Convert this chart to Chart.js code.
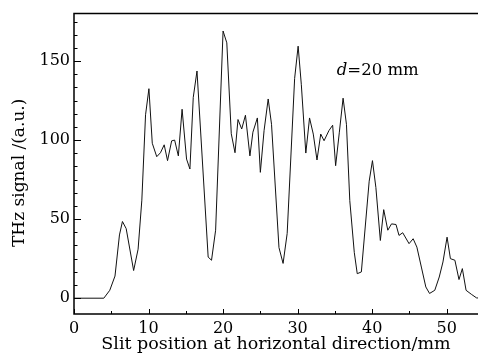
<!DOCTYPE html>
<html>
<head>
<meta charset="utf-8">
<script src="https://cdn.jsdelivr.net/npm/chart.js@4.4.1/dist/chart.umd.min.js"></script>
<style>
html, body { margin: 0; padding: 0; background: #fff; }
canvas { display: block; }
</style>
</head>
<body>
<canvas id="chart" width="478" height="358"></canvas>
<script>
// slit position (mm) and THz signal (a.u.)
const position = [0, 4, 4.8, 5.5, 6.1, 6.5, 7.0, 8.0, 8.6, 9.1, 9.6, 10.05, 10.5, 11.1, 11.6, 12.1,
    12.55, 13.1, 13.5, 14.0, 14.5, 15.1, 15.55, 16.0, 16.5, 18.0, 18.45, 19.0, 20.0, 20.5, 21.1,
    21.6, 22.0, 22.5, 23.0, 23.6, 24.0, 24.6, 25.0, 25.5, 26.05, 26.5, 27.5, 28.05, 28.6, 29.6,
    30.07, 30.5, 31.1, 31.6, 32.1, 32.6, 33.1, 33.55, 34.2, 34.7, 35.1, 35.6, 36.1, 36.55, 37.0,
    37.6, 38.0, 38.55, 39.6, 40.04, 40.5, 41.1, 41.55, 42.1, 42.6, 43.2, 43.6, 44.1, 44.95, 45.5,
    46.0, 46.6, 47.2, 47.7, 48.4, 49.0, 49.5, 50.05, 50.5, 51.1, 51.65, 52.1, 52.6, 53.3, 54.0, 54.5];
const signal = [0, 0, 5, 14, 40, 48.5, 44, 17.5, 31, 62, 116, 132.5, 98, 89.5, 92, 97,
    87, 99.5, 100, 90, 119.5, 88, 81.7, 127, 143.7, 26, 24, 43, 169, 161.5, 104,
    92, 113, 107, 115.7, 90, 105, 114, 79.6, 106, 126, 110, 32, 22, 41, 139,
    159.4, 135, 91.8, 114, 103.8, 87.4, 103.8, 99.6, 106, 109.4, 83.8, 105, 126.5, 110, 61.7,
    29, 15.5, 16.6, 74, 87, 70, 36.5, 56, 43, 47, 46.6, 39.7, 41.4, 34.5, 37.6,
    32.3, 19.7, 7.1, 3, 5, 13.4, 22.9, 38.6, 25, 24, 11.8, 18.7, 5, 2.5, 0.2, 0];

const xTicks = [0, 5, 10, 15, 20, 25, 30, 35, 40, 45, 50];
const xLabelled = [0, 10, 20, 30, 40, 50];
const yTicks = [0, 8.333, 16.667, 25, 33.333, 41.667, 50, 58.333, 66.667, 75, 83.333, 91.667,
    100, 108.333, 116.667, 125, 133.333, 141.667, 150, 158.333, 166.667, 175];
const yLabelled = [0, 50, 100, 150];

const serif = 'DejaVu Serif';

// axes box, inward tick marks, y title and the d=20 mm note
const framePlugin = {
    id: 'frame',
    afterDraw(chart) {
        const { ctx, chartArea: a, scales: { x, y } } = chart;
        ctx.save();
        ctx.strokeStyle = '#000';
        ctx.lineWidth = 1.5;
        ctx.beginPath();
        ctx.moveTo(a.right + 2, a.top);
        ctx.lineTo(a.left, a.top);
        ctx.lineTo(a.left, a.bottom);
        ctx.lineTo(a.right + 2, a.bottom);
        ctx.stroke();

        ctx.lineWidth = 1;
        ctx.beginPath();
        x.ticks.forEach(t => {
            const px = Math.round(x.getPixelForValue(t.value)) + 0.5;
            const len = t.label ? 5 : 3;
            ctx.moveTo(px, a.bottom);
            ctx.lineTo(px, a.bottom - len);
        });
        y.ticks.forEach(t => {
            const py = Math.round(y.getPixelForValue(t.value)) + 0.5;
            const len = t.label ? 7 : 3.5;
            ctx.moveTo(a.left, py);
            ctx.lineTo(a.left + len, py);
        });
        ctx.stroke();

        ctx.fillStyle = '#000';

        // y axis title, a little below the middle of the axis as in the original
        ctx.save();
        ctx.translate(20, a.top + (a.bottom - a.top) / 2 + 9);
        ctx.rotate(-Math.PI / 2);
        ctx.font = '17px ' + serif;
        ctx.textAlign = 'center';
        ctx.textBaseline = 'middle';
        ctx.fillText('THz signal /(a.u.)', 0, 0);
        ctx.restore();

        let tx = x.getPixelForValue(35.25);
        const ty = y.getPixelForValue(141);
        ctx.textBaseline = 'alphabetic';
        ctx.font = 'italic 16.5px ' + serif;
        ctx.fillText('d', tx, ty);
        tx += ctx.measureText('d').width;
        ctx.font = '16.5px ' + serif;
        ctx.fillText('=20 mm', tx, ty);
        ctx.restore();
    }
};

new Chart(document.getElementById('chart'), {
    type: 'line',
    data: {
        datasets: [{
            data: position.map((p, i) => ({ x: p, y: signal[i] })),
            borderColor: '#111',
            borderWidth: 1,
            pointRadius: 0,
            fill: false,
            tension: 0
        }]
    },
    options: {
        responsive: false,
        animation: false,
        devicePixelRatio: 1,
        layout: { padding: { top: 13, right: 0, left: 0, bottom: 0 } },
        plugins: { legend: { display: false }, tooltip: { enabled: false } },
        scales: {
            x: {
                type: 'linear',
                min: 0,
                max: 54.2,
                afterBuildTicks: s => { s.ticks = xTicks.map(v => ({ value: v })); },
                afterFit: s => { s.height = 44; },
                grid: { display: false, drawTicks: false },
                border: { display: false },
                ticks: {
                    autoSkip: false,
                    maxRotation: 0,
                    padding: 5,
                    color: '#000',
                    font: { family: serif, size: 16 },
                    callback: v => xLabelled.includes(v) ? String(v) : ''
                },
                title: {
                    display: true,
                    text: 'Slit position at horizontal direction/mm',
                    color: '#000',
                    font: { family: serif, size: 17.5 },
                    padding: { top: 0, bottom: 3 }
                }
            },
            y: {
                min: -10,
                max: 180,
                afterBuildTicks: s => { s.ticks = yTicks.map(v => ({ value: v })); },
                afterFit: s => { s.width = 74; },
                grid: { display: false, drawTicks: false },
                border: { display: false },
                ticks: {
                    autoSkip: false,
                    padding: 4,
                    color: '#000',
                    font: { family: serif, size: 16 },
                    callback: v => yLabelled.includes(v) ? String(v) : ''
                }
            }
        }
    },
    plugins: [framePlugin]
});
</script>
</body>
</html>
